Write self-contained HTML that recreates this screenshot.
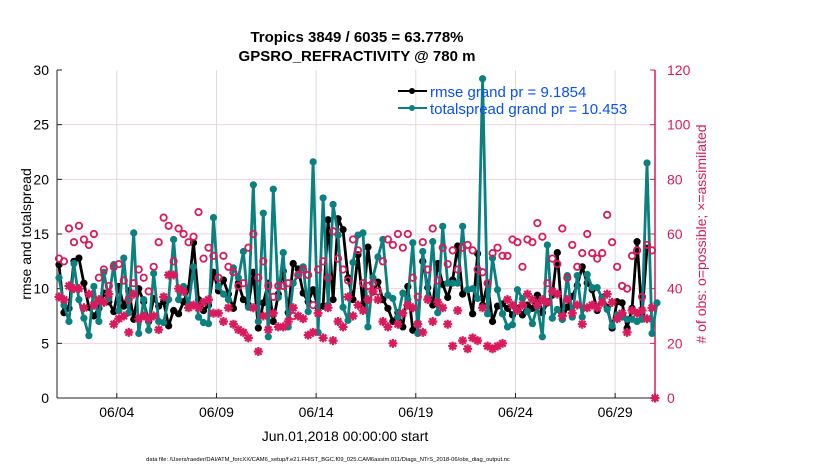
<!DOCTYPE html>
<html><head><meta charset="utf-8"><style>
body{margin:0;background:#fff;}
svg{display:block;font-family:"Liberation Sans",sans-serif;}
</style></head><body>
<svg id="chart" width="830" height="470" viewBox="0 0 830 470">
<rect width="830" height="470" fill="#fff"/>
<g id="grid"></g>
<g id="axes"></g>
<g id="series"></g>
<text x="357" y="42" text-anchor="middle" font-size="15" font-weight="bold">Tropics 3849 / 6035 = 63.778%</text>
<text x="357" y="61" text-anchor="middle" font-size="15" font-weight="bold">GPSRO_REFRACTIVITY @ 780 m</text>
<text transform="translate(31,234) rotate(-90)" text-anchor="middle" font-size="14">rmse and totalspread</text>
<text transform="translate(706,234) rotate(-90)" text-anchor="middle" font-size="14" fill="#d81b5c"># of obs: o=possible; ×=assimilated</text>
<text x="345" y="441" text-anchor="middle" font-size="14">Jun.01,2018 00:00:00 start</text>
<text x="328" y="461" text-anchor="middle" font-size="5.8">data file: /Users/raeder/DAI/ATM_forcXX/CAM6_setup/f.e21.FHIST_BGC.f09_025.CAM6assim.011/Diags_NTrS_2018-06/obs_diag_output.nc</text>
<g>
<g>
<line x1="398" y1="91" x2="427" y2="91" stroke="#000" stroke-width="2"/>
<circle cx="412" cy="91" r="3" fill="#000"/>
<text x="430" y="97" font-size="15" fill="#0b50f5">rmse grand pr = 9.1854</text>
</g>
<g>
<line x1="398" y1="108" x2="427" y2="108" stroke="#0a8080" stroke-width="2"/>
<circle cx="412" cy="108" r="3" fill="#0a8080"/>
<text x="430" y="114" font-size="15" fill="#0b50f5">totalspread grand pr = 10.453</text>
</g>
</g>
</svg>
<script>
const totalspread=[11,8.5,7,12.3,9,7.3,5.7,10.2,7,11.5,9.1,12.2,8,12.8,7.8,15.1,5.9,9,6.2,11.4,7,6.9,9,14.5,9,10.2,8.5,12,7.4,6.9,
6.8,16.5,10.2,9.5,9,11.9,11,13.4,8.3,19.5,7,16.9,5.6,19.1,9.2,13.3,6.5,10.5,11.3,12,7.9,21.6,6,18.3,8.5,17.7,14.9,8.3,7.1,12.4,
14.9,15.1,6.5,11,12.9,14.5,9.4,9.1,7.4,9.6,9,14.2,5.9,13.4,9.2,14.3,7.8,15.7,10.5,10.5,10.5,15.7,9.9,10,9.1,29.2,7.7,12.8,9.9,7.7,6.5,
6.7,9.9,9.1,7.9,6.8,8.4,5.6,14,7.3,8.1,7.2,11.2,7.4,11.2,7.4,11.3,10.1,10.1,9.1,8.1,6.6,7.6,7.4,7.2,7.2,7,7.2,21.5,5.9,8.7];
const rmse=[12.2,7.8,8.2,12.5,12.8,10.5,8.3,7.5,8.2,9.6,8.8,7.9,10.2,8.4,9.8,7.2,10,8.8,7,9.1,8.4,8.8,6.6,8,7.7,8.8,10,14.2,9,8,
8.5,11.5,9.8,10.8,9.5,8.2,10.5,9,8.5,11.5,6.4,8.7,10.5,7,9.5,11.6,7.8,12.3,11.8,9.6,8.8,9.9,8.3,8.4,16.3,9,16.4,15.4,11,9,
13.1,8.5,13.8,9.7,10.6,9,8.2,7,7.8,6.5,10.2,6.2,6.8,12.5,10.1,8.5,12.3,10.4,9.2,10.8,13.9,9.5,9.9,7.7,13.2,8.5,10.5,7,8.4,
8.6,8.2,7.6,8.2,7.6,8.5,8.2,9.4,7.8,8.7,9.4,13.3,7.2,8.3,9.3,10.3,12,10.5,9.9,8,9.2,8.3,6.4,8.8,8.7,6.4,8.2,14.3,7.5,13.7];
const possible=[51,50,62,57,63,58,56,60,44,47,41,48,49,43,36,42,47,44,39,48,57,66,63,50,62,60,57,59,68,51,
55,52,44,52,48,46,41,42,55,60,44,50,41,37,41,41,42,30,45,47,45,34,47,50,44,61,51,47,43,58,
54,42,41,42,39,50,58,56,60,55,60,44,37,57,47,62,43,55,49,54,47,55,56,54,47,46,42,53,55,52,
52,58,57,48,58,57,64,59,42,51,49,62,44,56,48,53,60,53,51,53,67,57,48,41,40,52,54,37,56,54];
const assimilated=[37,36,41,40,40,33,38,34,36,35,38,27,29,30,24,38,29,30,29,30,25,37,45,45,40,39,33,34,33,35,
36,31,31,28,33,27,25,24,22,33,17,30,25,31,26,26,28,33,30,29,23,24,31,22,33,21,28,26,37,30,
34,32,36,39,36,28,26,20,27,31,34,33,27,24,36,28,35,33,27,19,32,21,18,22,21,33,19,18,19,20,
36,34,32,34,38,36,34,36,35,39,38,30,36,31,34,27,33,34,33,35,38,35,29,31,24,32,31,32,29,33,0];
const xTickLabels=["06/04","06/09","06/14","06/19","06/24","06/29"];
const xTickDays=[3,8,13,18,23,28];
const leftTicks=[0,5,10,15,20,25,30];
const rightTicks=[0,20,40,60,80,100,120];

const X0=57,X1=655,Y0=398,Y1=70;
const xs=d=>X0+(X1-X0)*d/30;
const yl=v=>Y0-(Y0-Y1)*v/30;
const yr=v=>Y0-(Y0-Y1)*v/120;
const dayOf=i=>0.1+i*0.25;
const NS="http://www.w3.org/2000/svg";
function mk(tag,attrs,parent){const e=document.createElementNS(NS,tag);for(const k in attrs)e.setAttribute(k,attrs[k]);parent.appendChild(e);return e;}
const grid=document.getElementById('grid'),axes=document.getElementById('axes'),ser=document.getElementById('series');
xTickDays.forEach((d,i)=>{
 const g=mk('line',{x1:xs(d),x2:xs(d),y1:Y1,y2:Y0,stroke:'#dcdcdc','stroke-width':1},grid);
 
 
 mk('line',{x1:xs(d),x2:xs(d),y1:Y0,y2:Y0-5,stroke:'#222'},axes);
 const lb=mk('text',{x:xs(d),y:Y0+19,'text-anchor':'middle','font-size':14},axes);
 lb.textContent=xTickLabels[i];
 
 
});
rightTicks.forEach(v=>{
 if(v>0&&v<120){const g=mk('line',{x1:X0,x2:X1,y1:yr(v),y2:yr(v),stroke:'#f3cfdc','stroke-width':1},grid);
 
 }
 mk('line',{x1:X1,x2:X1-5,y1:yr(v),y2:yr(v),stroke:'#d81b5c'},axes);
 const lb=mk('text',{x:X1+12,y:yr(v)+5,'font-size':14,fill:'#d81b5c'},axes);
 lb.textContent=v;
 
 
});
leftTicks.forEach(v=>{
 mk('line',{x1:X0,x2:X0+5,y1:yl(v),y2:yl(v),stroke:'#222'},axes);
 const lb=mk('text',{x:X0-8,y:yl(v)+5,'text-anchor':'end','font-size':14},axes);
 lb.textContent=v;
 
 
});
const la=mk('line',{x1:X0,x2:X0,y1:Y1,y2:Y0,stroke:'#222'},axes);


const ba=mk('line',{x1:X0,x2:X1,y1:Y0,y2:Y0,stroke:'#222'},axes);


const ra=mk('line',{x1:X1,x2:X1,y1:Y1,y2:Y0,stroke:'#d81b5c','stroke-width':1.5},axes);



function line(arr,yf,color,name){
 const pts=arr.map((v,i)=>xs(dayOf(i)).toFixed(1)+','+yf(v).toFixed(1)).join(' ');
 const p=mk('polyline',{points:pts,fill:'none',stroke:color,'stroke-width':2.8,'stroke-linejoin':'round'},ser);
 
 
 arr.forEach((v,i)=>{const c=mk('circle',{cx:xs(dayOf(i)),cy:yf(v),r:3.6,fill:color},ser);
 
 });
}
line(rmse,yl,'#000','rmse');
line(totalspread,yl,'#0a8080','totalspread');
possible.forEach((v,i)=>{const c=mk('circle',{cx:xs(dayOf(i)),cy:yr(v),r:3.2,fill:'none',stroke:'#d81b5c','stroke-width':1.8},ser);
 
 });
assimilated.forEach((v,i)=>{
 const d=(i===assimilated.length-1)?30:dayOf(i);
 const cx=xs(d),cy=yr(v),r=4.5;
 const dpath=`M${cx-r},${cy}H${cx+r}M${cx},${cy-r}V${cy+r}M${cx-r*0.72},${cy-r*0.72}L${cx+r*0.72},${cy+r*0.72}M${cx-r*0.72},${cy+r*0.72}L${cx+r*0.72},${cy-r*0.72}`;
 const t=mk('path',{d:dpath,stroke:'#d81b5c','stroke-width':2.2,fill:'none'},ser);
 
 });
</script>
</body></html>
